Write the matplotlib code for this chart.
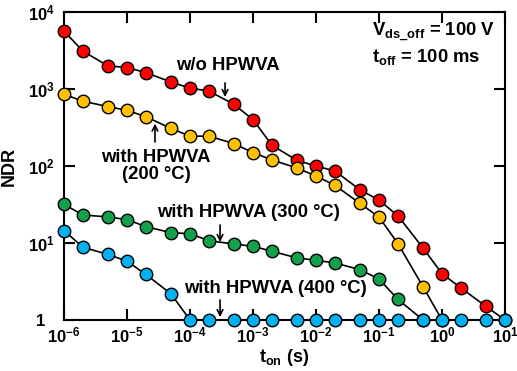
import matplotlib
matplotlib.use("Agg")
import matplotlib.pyplot as plt
import numpy as np

plt.rcParams['font.family'] = ['Liberation Sans', 'DejaVu Sans']
plt.rcParams['font.weight'] = 'bold'
plt.rcParams['mathtext.fontset'] = 'custom'
plt.rcParams['mathtext.rm'] = 'Liberation Sans:bold'
plt.rcParams['mathtext.it'] = 'Liberation Sans:bold'
plt.rcParams['mathtext.bf'] = 'Liberation Sans:bold'

t_on = [1e-6, 2e-6, 5e-6, 1e-5, 2e-5, 5e-5, 1e-4, 2e-4, 5e-4, 1e-3, 2e-3, 5e-3,
        1e-2, 2e-2, 5e-2, 1e-1, 2e-1, 5e-1, 1e0, 2e0, 5e0, 1e1]

ndr_wo = [5660, 3090, 1995, 1900, 1630, 1230, 1025, 940, 630, 400, 186, 118,
          100, 86, 49, 36, 22.5, 8.6, 4.0, 2.6, 1.5, 1.0]
ndr_200 = [853, 694, 590, 528, 436, 307, 244, 244, 195, 149, 120, 94,
           74, 56, 32.6, 21.7, 9.8, 2.7, 1.0]
ndr_300 = [31.8, 23.1, 21.8, 20.1, 16.3, 13.6, 13.2, 10.7, 9.7, 9.06, 7.8, 6.4,
           5.96, 5.5, 4.5, 3.4, 1.85, 1.0]
ndr_400 = [14.5, 8.8, 7.1, 5.8, 3.9, 2.18, 1, 1, 1, 1, 1, 1,
           1, 1, 1, 1, 1, 1, 1, 1, 1, 1]

series = [
    (ndr_wo, '#FF0000'),
    (ndr_200, '#FFC000'),
    (ndr_300, '#13A04A'),
    (ndr_400, '#00B0F0'),
]

fig = plt.figure(figsize=(5.17, 3.71), dpi=100)
ax = fig.add_axes([0.1238, 0.1375, 0.853, 0.8302])

for vals, col in series:
    ax.plot(t_on[:len(vals)], vals, '-', color='black', lw=1.2, marker='o',
            markersize=9, markerfacecolor=col, markeredgecolor='black',
            markeredgewidth=1.0, clip_on=False, zorder=3)

ax.set_xscale('log')
ax.set_yscale('log')
ax.set_xlim(1e-6, 1e1)
ax.set_ylim(1, 1e4)

xticks = [1e-6, 1e-5, 1e-4, 1e-3, 1e-2, 1e-1, 1e0, 1e1]
xlabels = [r'$\mathbf{10^{-6}}$', r'$\mathbf{10^{-5}}$', r'$\mathbf{10^{-4}}$', r'$\mathbf{10^{-3}}$',
           r'$\mathbf{10^{-2}}$', r'$\mathbf{10^{-1}}$', r'$\mathbf{10^{0}}$', r'$\mathbf{10^{1}}$']
yticks = [1, 1e1, 1e2, 1e3, 1e4]
ylabels = ['1', r'$\mathbf{10^{1}}$', r'$\mathbf{10^{2}}$', r'$\mathbf{10^{3}}$', r'$\mathbf{10^{4}}$']
ax.set_xticks(xticks)
ax.set_xticklabels(xlabels)
ax.set_yticks(yticks)
ax.set_yticklabels(ylabels)
ax.minorticks_off()
ax.tick_params(which='major', direction='in', length=8, width=1.5, top=True, right=True,
               labelsize=12)
ax.tick_params(axis='x', pad=4)
ax.tick_params(axis='y', pad=16.5)
for lab in ax.get_yticklabels():
    lab.set_ha('center')
for sp in ax.spines.values():
    sp.set_linewidth(1.5)

ax.set_xlabel(r'$\mathbf{t_{on}}$ (s)', fontsize=13, fontweight='bold', labelpad=1)
ax.set_ylabel('NDR', fontsize=13, fontweight='bold', labelpad=0)
ax.yaxis.set_label_coords(-0.105, 0.5)

fs = 13.3
akw = dict(arrowstyle='->', color='black', lw=1.2, shrinkA=0, shrinkB=0)
ax.text(4.0e-4, 2000, 'w/o HPWVA', fontsize=fs, fontweight='bold', ha='center', va='center')
ax.annotate('', xy=(3.6e-4, 787), xytext=(3.6e-4, 1200), arrowprops=akw)
ax.text(2.9e-5, 100, 'with HPWVA\n(200 \u00b0C)', fontsize=fs, fontweight='bold', ha='center',
        va='center', linespacing=1.05)
ax.annotate('', xy=(2.78e-5, 355), xytext=(2.78e-5, 205), arrowprops=akw)
ax.text(3.0e-5, 25.2, 'with HPWVA (300 \u00b0C)', fontsize=fs, fontweight='bold', ha='left', va='center')
ax.annotate('', xy=(3.0e-4, 10.3), xytext=(3.0e-4, 17.1), arrowprops=akw)
ax.text(8.0e-5, 2.53, 'with HPWVA (400 \u00b0C)', fontsize=fs, fontweight='bold', ha='left', va='center')
ax.annotate('', xy=(3.0e-4, 1.09), xytext=(3.0e-4, 1.82), arrowprops=akw)

ax.text(0.698, 0.932, r'V$_{\mathbf{ds\_off}}$ = 100 V', transform=ax.transAxes, fontsize=fs,
        fontweight='bold', ha='left', va='center')
ax.text(0.698, 0.854, r't$_{\mathbf{off}}$ = 100 ms', transform=ax.transAxes, fontsize=fs,
        fontweight='bold', ha='left', va='center')

fig.savefig('out.png', dpi=100)
